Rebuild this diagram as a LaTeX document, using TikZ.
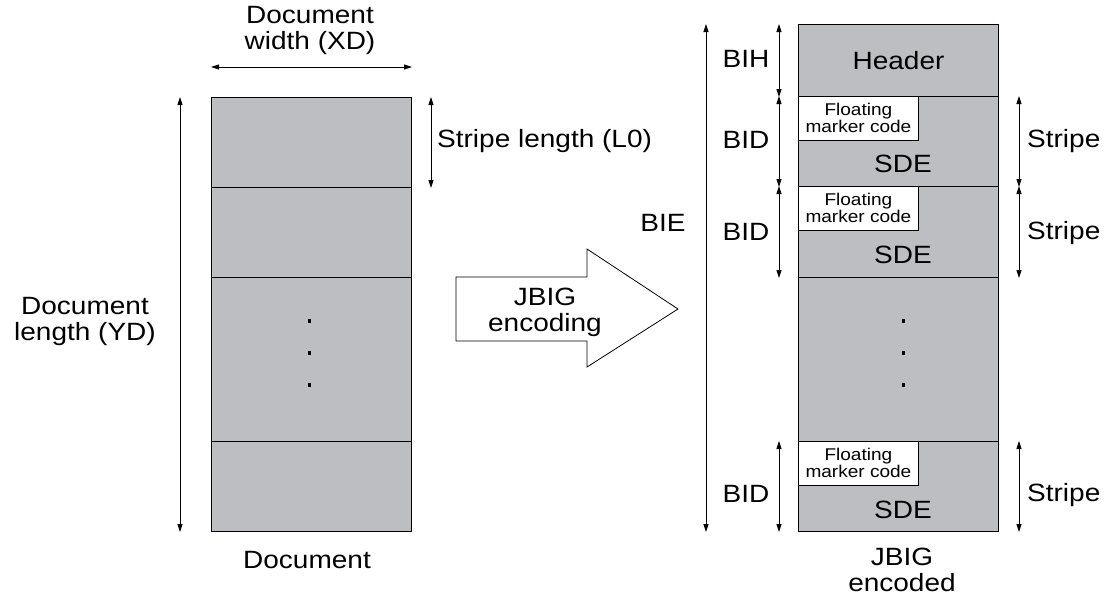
\documentclass[tikz,border=0pt]{standalone}
\usepackage{fontspec}
\setmainfont{Liberation Sans}[FakeStretch=1.12]
\usepackage{xcolor}
\usepackage{tikz}
\usetikzlibrary{arrows.meta}
\definecolor{PageGray}{RGB}{189,190,194}
\newcommand\lblfont{\fontsize{25}{26}\selectfont}
\newcommand\markfont{\fontsize{17}{17}\selectfont}

\tikzset{
  stripebox/.style={anchor=north west,draw,fill=PageGray,line width=1pt,
    minimum width=200,inner sep=0pt,font=\lblfont},
  markerbox/.style={anchor=north west,draw,fill=white,line width=0.8pt,
    minimum width=120,minimum height=44,inner sep=0pt,align=center,font=\markfont},
  dimarr/.style={line width=0.8pt,{Triangle[length=8pt,width=5pt]}-{Triangle[length=8pt,width=5pt]}},
  lbl/.style={inner sep=0pt,font=\lblfont},
}

\begin{document}
\begin{tikzpicture}[x=1pt,y=-1pt]
    \useasboundingbox (0,0) rectangle (1106,595);
    \node[stripebox,minimum height=90] (doc1) at (211,97) {};
    \node[stripebox,minimum height=90] (doc2) at (211,187) {};
    \node[stripebox,minimum height=164] (doc3) at (211,277) {};
    \node[stripebox,minimum height=90] (doc4) at (211,441) {};
    \foreach \y in {321,353,385}
      \fill (307.5,\y-1.75) rectangle ++(3.5,3.5);

    \node[stripebox,minimum height=72] (hdr) at (798,24) {Header};
    \node[stripebox,minimum height=90] (bid1) at (798,96) {};
    \node[stripebox,minimum height=91] (bid2) at (798,186) {};
    \node[stripebox,minimum height=164] (gap) at (798,277) {};
    \node[stripebox,minimum height=90] (bid3) at (798,441) {};
    \foreach \y in {321,353,385}
      \fill (901.5,\y-1.75) rectangle ++(3.5,3.5);
    \node[markerbox] (fmc1) at (bid1.north west) {Floating\\marker code};
    \node[markerbox] (fmc2) at (bid2.north west) {Floating\\marker code};
    \node[markerbox] (fmc3) at (bid3.north west) {Floating\\marker code};
    \node[lbl,anchor=base] (sde1) at (903,172) {SDE};
    \node[lbl,anchor=base] (sde2) at (903,263) {SDE};
    \node[lbl,anchor=base] (sde3) at (903,518) {SDE};

    \draw[dimarr] ([yshift=30pt]doc1.north west) -- ([yshift=30pt]doc1.north east);
    \draw[dimarr] ([xshift=-31pt]doc1.north west) -- ([xshift=-31pt]doc4.south west);
    \draw[dimarr] ([xshift=19pt]doc1.north east) -- ([xshift=19pt]doc1.south east);
    \draw[dimarr] ([xshift=-92pt]hdr.north west) -- ([xshift=-92pt]bid3.south west);
    \foreach \n in {hdr,bid1,bid2,bid3}
      \draw[dimarr] ([xshift=-19pt]\n.north west) -- ([xshift=-19pt]\n.south west);
    \foreach \n in {bid1,bid2,bid3}
      \draw[dimarr] ([xshift=20pt]\n.north east) -- ([xshift=20pt]\n.south east);

    \draw[line width=0.8pt,fill=white] (456,277) -- (587,277) -- (587,249) -- (678,309)
      -- (587,367) -- (587,341) -- (456,341) -- cycle;
    \node[lbl,align=center] (enc) at (545,312) {JBIG\\encoding};

    \node[lbl,align=center] (xd) at (310,30) {Document\\width (XD)};
    \node[lbl,align=center] (yd) at (85,321) {Document\\length (YD)};
    \node[lbl,anchor=base west] (l0) at (437,147) {Stripe length (L0)};
    \node[lbl,anchor=base] (doclbl) at (307,568) {Document};
    \node[lbl,align=center] (enclbl) at (902,570) {JBIG\\encoded};

    \node[lbl,anchor=base] (bie) at (663,231) {BIE};
    \node[lbl,anchor=base] (bih) at (746,67) {BIH};
    \node[lbl,anchor=base] (bidl1) at (746,148) {BID};
    \node[lbl,anchor=base] (bidl2) at (746,240) {BID};
    \node[lbl,anchor=base] (bidl3) at (746,502) {BID};
    \node[lbl,anchor=base west] (st1) at (1027,147) {Stripe};
    \node[lbl,anchor=base west] (st2) at (1027,239) {Stripe};
    \node[lbl,anchor=base west] (st3) at (1027,501) {Stripe};
  \end{tikzpicture}
\end{document}
